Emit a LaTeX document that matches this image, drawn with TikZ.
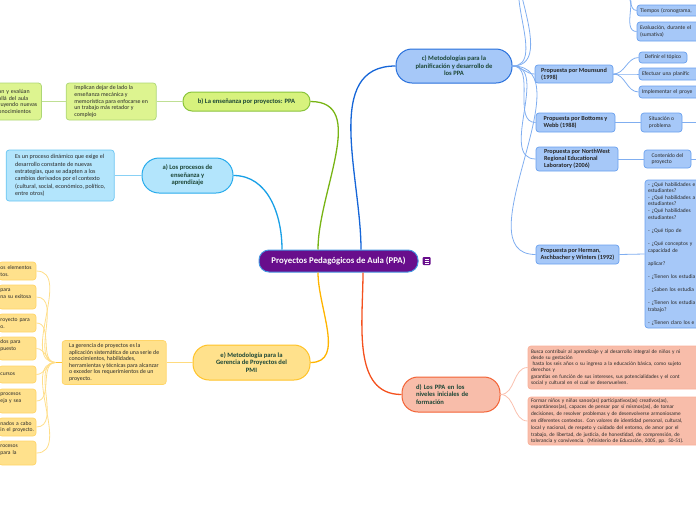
\documentclass[tikz,border=0pt]{standalone}
\usepackage{fontspec}
\setmainfont{Carlito}
\usetikzlibrary{positioning,calc}
\definecolor{RootC}{RGB}{104,14,140}
\definecolor{RootLine}{RGB}{70,150,225}
\definecolor{TitleTxt}{RGB}{28,70,54}
\definecolor{BodyTxt}{RGB}{42,42,42}
\definecolor{AFill}{RGB}{179,229,252}
\definecolor{ALine}{RGB}{41,172,236}
\definecolor{AWire}{RGB}{25,160,230}
\definecolor{BFill}{RGB}{215,242,125}
\definecolor{BLine}{RGB}{138,196,60}
\definecolor{BWire}{RGB}{120,180,20}
\definecolor{CFill}{RGB}{166,200,248}
\definecolor{CLine}{RGB}{40,112,220}
\definecolor{CWire}{RGB}{22,102,216}
\definecolor{CSub}{RGB}{105,160,238}
\definecolor{DFill}{RGB}{248,189,170}
\definecolor{DLine}{RGB}{243,98,52}
\definecolor{DWire}{RGB}{244,81,30}
\definecolor{EFill}{RGB}{255,225,140}
\definecolor{ELine}{RGB}{255,195,40}
\definecolor{EWire}{RGB}{255,180,0}
\tikzset{
  root/.style={draw=RootLine,fill=RootC,text=white,line width=1pt,rounded corners=10pt,
               minimum width=159pt,minimum height=22pt,inner sep=0pt,
               font=\fontsize{8.8}{9.5}\selectfont\bfseries},
  branch/.style={line width=1pt,align=center,inner sep=0pt,text=TitleTxt,
                 font=\fontsize{6.6}{7.5}\selectfont\bfseries},
  leaf/.style={line width=0.7pt,rounded corners=3pt,align=left,inner xsep=3pt,inner ysep=1pt,
               text=BodyTxt,font=\fontsize{5.9}{6.6}\selectfont},
  prop/.style={leaf,fill=CFill,draw=CSub,text=black!85,
               font=\fontsize{6.2}{6.7}\selectfont\bfseries},
  aleaf/.style={leaf,fill=AFill,draw=ALine!70},
  bleaf/.style={leaf,fill=BFill!85,draw=BLine!70},
  cleaf/.style={leaf,fill=CFill,draw=CSub,font=\fontsize{5.6}{6.6}\selectfont},
  dleaf/.style={leaf,fill=DFill,draw=DLine!50},
  eleaf/.style={leaf,fill=EFill,draw=ELine!70},
  sz/.style 2 args={minimum width=#1pt,minimum height=#2pt},
  wire/.style={line width=1.3pt},
  twig/.style={line width=0.8pt},
}
\begin{document}
\begin{tikzpicture}[x=1pt,y=1pt,node distance=26pt]
  \useasboundingbox (0,0) rectangle (696,-520);
  \node[root] (root) at (338.5,-261) {Proyectos Pedagógicos de Aula (PPA)};
  \node[fill=RootC,rounded corners=1pt,minimum size=8pt,inner sep=0pt,right=4pt of root] (notes) {};
  \foreach \dy in {-2,0,2}
    \draw[white,line width=0.6pt] ([xshift=-2pt,yshift=\dy pt]notes.center) -- ([xshift=2pt,yshift=\dy pt]notes.center);

  \node[branch,draw=ALine,fill=AFill,rounded corners=17pt,sz={91}{35}] (procA) at (187.5,-175.5)
    {a) Los procesos de\\enseñanza y\\aprendizaje};
  \node[aleaf,left=27pt of procA,sz={108}{51},font=\fontsize{6.1}{7.3}\selectfont] (procDesc)
    {Es un proceso dinámico que exige el\\desarrollo constante de nuevas\\estrategias, que se adapten a los\\cambios derivados por el contexto\\(cultural, social, económico, político,\\entre otros)};

  \node[branch,draw=BLine,fill=BFill,rounded corners=9pt,sz={127}{19}] (ensB) at (246.5,-101.5)
    {b) La enseñanza por proyectos: PPA};
  \node[bleaf,left=of ensB,sz={90}{37}] (ensDesc)
    {Implican dejar de lado la\\enseñanza mecánica y\\memorística para enfocarse en\\un trabajo más retador y\\complejo};
  \node[bleaf,left=24pt of ensDesc,text width=40pt,minimum height=37pt] (ensCut)
    {an y evalúan\\allá del aula\\ruyendo nuevas\\onocimientos};

  \node[branch,draw=CLine,fill=CFill,rounded corners=16pt,sz={116}{34}] (metC) at (454,-66)
    {c) Metodologías para la\\planificación y desarrollo de\\los PPA};
  \node[prop,sz={78}{18}] (pMoun) at (574,-74) {Propuesta por Mounsund\\(1998)};
  \node[cleaf,sz={48}{11}] (mDef) at (663,-57.5) {Definir el tópico};
  \node[cleaf,text width=75pt,minimum height=12pt] (mPlan) at (679.5,-74) {Efectuar una planific};
  \node[cleaf,text width=75pt,minimum height=12pt] (mImpl) at (679.5,-92) {Implementar el proye};
  \node[cleaf,text width=77pt,minimum height=11pt] (tTime) at (678.5,-10.5) {Tiempos (cronograma,};
  \node[cleaf,text width=77pt,minimum height=19pt] (tEval) at (678.5,-31.5) {Evaluación, durante el\\(sumativa)};
  \node[prop,sz={79}{19}] (pBott) at (575.5,-122.5) {Propuesta por Bottoms y\\Webb (1988)};
  \node[cleaf,sz={41}{19}] (situ) at (661.5,-122.5) {Situación o\\problema};
  \node[prop,sz={82}{24}] (pNorth) at (577,-159) {Propuesta por NorthWest\\Regional Educational\\Laboratory (2006)};
  \node[cleaf,sz={47}{18}] (conte) at (667.5,-159) {Contenido del\\proyecto};
  \node[prop,sz={83}{19}] (pHerm) at (577.5,-254.5) {Propuesta por Herman,\\Aschbacher y Winters (1992)};
  \node[cleaf,text width=79pt,minimum height=148pt,font=\fontsize{5.5}{6.6}\selectfont] (hList) at (687.5,-254)
    {- ¿Qué habilidades e\\estudiantes?\\- ¿Qué habilidades a\\estudiantes?\\- ¿Qué habilidades\\estudiantes?\\[6.6pt]- ¿Qué tipo de\\[6.6pt]- ¿Qué conceptos y\\capacidad de\\[6.6pt]aplicar?\\[6.6pt]- ¿Tienen los estudia\\[6.6pt]- ¿Saben los estudia\\[6.6pt]- ¿Tienen los estudia\\trabajo?\\[6.6pt]- ¿Tienen claro los e};
  \coordinate (cUp1) at (532,25);
  \coordinate (cUp2) at (532,70);
  \coordinate (tPar) at (624,8);
  \coordinate (sOut) at (715,-122.5);
  \coordinate (kOut) at (715,-159);

  \node[branch,draw=DLine,fill=DFill,rounded corners=16pt,sz={98}{35},align=left,text width=70pt] (ppaD) at (451,-394.5)
    {d) Los PPA en los\\niveles iniciales de\\formación};
  \node[dleaf,text width=191pt,minimum height=43pt,font=\fontsize{5.3}{6.1}\selectfont] (dBusca) at (626.5,-367.5)
    {Busca contribuir al aprendizaje y al desarrollo integral de niños y ni\\desde su gestación\\\hspace*{1.5pt}hasta los seis años o su ingreso a la educación básica, como sujeto\\derechos y\\garantías en función de sus intereses, sus potencialidades y el cont\\social y cultural en el cual se desenvuelven.};
  \node[dleaf,text width=191pt,minimum height=48pt,font=\fontsize{5.3}{6.8}\selectfont] (dFormar) at (626.5,-421)
    {Formar niños y niñas sanos(as) participativos(as) creativos(as),\\espontáneos(as), capaces de pensar por sí mismos(as), de tomar\\decisiones, de resolver problemas y de desenvolverse armoniosame\\en diferentes contextos. Con valores de identidad personal, cultural,\\local y nacional, de respeto y cuidado del entorno, de amor por el\\trabajo, de libertad, de justicia, de honestidad, de comprensión, de\\tolerancia y convivencia. (Ministerio de Educación, 2005, pp. 50-51).};

  \node[branch,draw=ELine,fill=EFill,rounded corners=16pt,sz={117}{35}] (pmiE) at (251.5,-362.5)
    {e) Metodología para la\\Gerencia de Proyectos del\\PMI};
  \node[eleaf,left=of pmiE,sz={104}{44}] (eDesc)
    {La gerencia de proyectos es la\\aplicación sistemática de una serie de\\conocimientos, habilidades,\\herramientas y técnicas para alcanzar\\o exceder los requerimientos de un\\proyecto.};
  \coordinate[left=6pt of eDesc] (ejoin);
  \foreach \k/\yy/\hh/\txt in {1/271/18/{os~elementos\\tos.},2/297/24/{para\\na~su~exitosa\\\mbox{}},
      3/323/18/{royecto~para\\o.},4/348.5/23/{dos~para\\puesto\\\mbox{}},5/374.5/17/{cursos},
      6/401/24/{procesos\\eja~y~sea\\\mbox{}},7/427/18/{nados~a~cabo\\in~el~proyecto.},8/453/24/{rocesos\\para~la\\\mbox{}}}
    \node[eleaf,inner xsep=1.5pt,text width=34pt,minimum height=\hh pt,font=\fontsize{5.6}{6.6}\selectfont] (pmi\k) at (17.5,-\yy) {\txt};

  \draw[wire,AWire] ([xshift=-56.5pt]root.north) to[out=90,in=0] (procA.east);
  \draw[wire,BWire] ([xshift=-20.5pt]root.north) to[out=90,in=0] (ensB.east);
  \draw[wire,CWire] ([xshift=22.5pt]root.north) to[out=90,in=180] (metC.west);
  \draw[wire,DWire] ([xshift=24.5pt]root.south) to[out=-90,in=180] (ppaD.west);
  \draw[wire,EWire] ([xshift=-20.5pt]root.south) to[out=-90,in=0] (pmiE.east);

  \draw[twig,ALine!55] (procDesc.east) -- (procA.west);
  \draw[twig,BLine!55] (ensDesc.east) -- (ensB.west);
  \draw[twig,BLine!55] (ensCut.east) -- (ensDesc.west);
  \foreach \p in {pMoun,pBott,pNorth,pHerm}
    \draw[twig,CSub!85] (metC.east) to[out=0,in=180] (\p.west);
  \foreach \p in {cUp1,cUp2}
    \draw[twig,CSub!85] (metC.east) to[out=0,in=180] (\p);
  \foreach \p in {mDef,mPlan,mImpl}
    \draw[twig,CSub!85] (pMoun.east) to[out=0,in=180] (\p.west);
  \foreach \p in {tTime,tEval}
    \draw[twig,CSub!85] (tPar) to[out=0,in=180] (\p.west);
  \draw[twig,CSub!85] (pBott.east) -- (situ.west);
  \draw[twig,CSub!85] (situ.east) -- (sOut);
  \draw[twig,CSub!85] (pNorth.east) -- (conte.west);
  \draw[twig,CSub!85] (conte.east) -- (kOut);
  \draw[twig,CSub!85] (pHerm.east) -- (hList.west);
  \foreach \p in {dBusca,dFormar}
    \draw[twig,DLine!40] (ppaD.east) to[out=0,in=180] (\p.west);
  \draw[twig,ELine!60] (eDesc.east) -- (pmiE.west);
  \draw[wire,EWire!80] (eDesc.west) -- (ejoin);
  \foreach \k in {1,...,8}
    \draw[twig,ELine!55] (ejoin) to[out=180,in=0] (pmi\k.east);
\end{tikzpicture}
\end{document}
